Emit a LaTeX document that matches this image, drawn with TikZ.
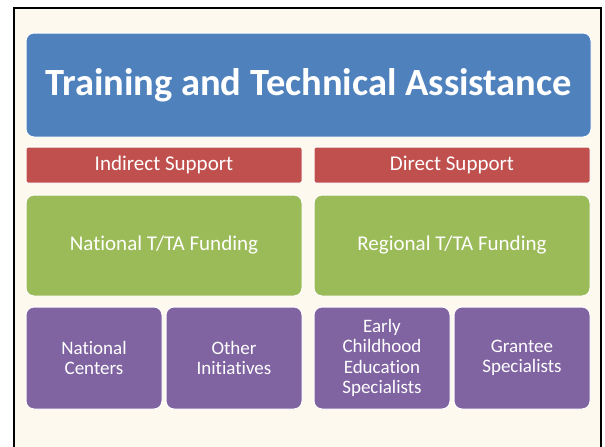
\documentclass[tikz,border=0pt]{standalone}
\usepackage{fontspec}
\setmainfont{Carlito}[Ligatures=NoCommon]
\usetikzlibrary{positioning}
\definecolor{ttaBlue}{HTML}{4F81BD}
\definecolor{ttaRed}{HTML}{C0504D}
\definecolor{ttaGreen}{HTML}{9BBB59}
\definecolor{ttaPurple}{HTML}{8064A2}
\definecolor{ttaCream}{HTML}{FDF9EE}

\begin{document}
\begin{tikzpicture}[x=1pt,y=-1pt,
  box/.style={draw=white, line width=1pt, text=white, align=center, inner sep=0pt, rounded corners=8pt},
  head/.style={box, fill=ttaBlue, minimum width=565pt, minimum height=104pt, font=\bfseries\fontsize{38.5}{46}\selectfont},
  support/.style={box, fill=ttaRed, rounded corners=2pt, minimum width=276pt, minimum height=36pt, font=\fontsize{21}{25}\selectfont},
  funding/.style={box, fill=ttaGreen, minimum width=276pt, minimum height=101pt, font=\fontsize{21}{25}\selectfont},
  unit/.style={box, fill=ttaPurple, minimum width=136pt, minimum height=102pt, font=\fontsize{19}{20.5}\selectfont}]
  \useasboundingbox (0,0) rectangle (605,447);
  \fill[white] (0,0) rectangle (605,447);
  \fill[ttaCream] (14,8) rectangle (601,447);
  \draw[line width=2pt] (14,447) -- (14,8) -- (601,8) -- (601,447);

  \node[head] (tta) at (308.5,85) {Training and Technical Assistance};
  \node[support] (indirect) [below right=9pt and 0pt of tta.south west] {Indirect Support};
  \node[support] (direct) [right=11pt of indirect] {Direct Support};
  \node[funding] (national) [below=11pt of indirect] {National T/TA Funding};
  \node[funding] (regional) [below=11pt of direct] {Regional T/TA Funding};
  \node[unit] (centers) [below right=10pt and 0pt of national.south west] {National\\Centers};
  \node[unit] (initiatives) [below left=10pt and 0pt of national.south east] {Other\\Initiatives};
  \node[unit] (ece) [below right=10pt and 0pt of regional.south west] {Early\\Childhood\\Education\\Specialists};
  \node[unit] (grantee) [below left=10pt and 0pt of regional.south east] {Grantee\\Specialists};
\end{tikzpicture}
\end{document}
